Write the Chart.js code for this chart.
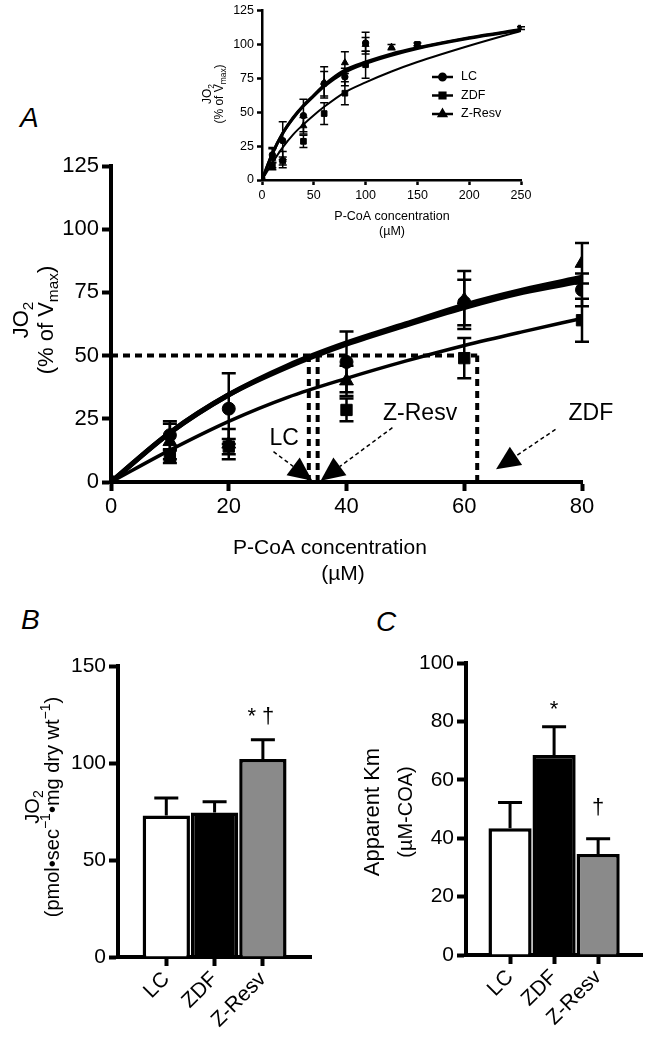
<!DOCTYPE html>
<html>
<head>
<meta charset="utf-8">
<script src="https://cdn.jsdelivr.net/npm/chart.js@4.4.1/dist/chart.umd.min.js"></script>
<style>
  body { margin: 0; background: #fff; width: 661px; height: 1042px; position: relative; overflow: hidden; }
  canvas { position: absolute; }
  .panel { position: absolute; font: italic 28px "Liberation Sans", Arial, sans-serif; }
</style>
</head>
<body>
<div class="panel" style="left:20px;top:102px">A</div>
<div class="panel" style="left:21px;top:604px">B</div>
<div class="panel" style="left:376px;top:606px">C</div>
<canvas id="chartA" width="661" height="590" style="left:0;top:0"></canvas>
<canvas id="inset" width="360" height="245" style="left:180px;top:0"></canvas>
<canvas id="chartB" width="330" height="452" style="left:0;top:590px"></canvas>
<canvas id="chartC" width="331" height="452" style="left:330px;top:590px"></canvas>
<script>
// ---- panel A: measured points (mean, sem) ----
const concX = [0, 10, 20, 40, 60, 80];
const lcMean = [0, 18.5, 29, 47.5, 71, 76];
const lcSem = [0, 5.5, 14, 12, 9, 6.5];
const zdfMean = [0, 10, 14, 28.5, 49, 64];
const zdfSem = [0, 2.5, 3, 4.5, 8, 8.5];
const resvMean = [0, 16, 15, 40, 72, 86.5];
const resvSem = [0, 7, 6, 6, 11.5, 8];

// fitted curves
const fitX = [0, 10, 20, 30, 40, 50, 60, 70, 80];
const lcFit = [0, 19.5, 34.5, 45.5, 54.5, 62, 69, 75, 79.5];
const resvFit = [0, 19.5, 34.5, 46, 55, 62.5, 70, 76, 81];
const zdfFit = [0, 12.6, 24, 33.5, 41, 47.8, 54, 59.5, 64.7];

// half-max guides
const halfLevel = 50;
const kmLines = [33.6, 35.1, 62.2];

// ---- inset: full range ----
const insetX = [0, 10, 20, 40, 60, 80, 100, 125, 150, 250];
const lcIn = [0, 18.5, 29, 47.5, 71, 76, 101, null, null, null];
const lcInSem = [0, 5.5, 14, 12, 9, 6.5, 8, null, null, null];
const zdfIn = [0, 10, 14, 28.5, 49, 64, 85, null, 100, 112];
const zdfInSem = [0, 2.5, 3, 4.5, 8, 8.5, 10, null, 1, 1];
const resvIn = [0, 16, 15, 40, 72, 86.5, 100, 98, null, null];
const resvInSem = [0, 7, 6, 6, 11.5, 8, 5, 2, null, null];

const insetFitX = [0, 10, 20, 30, 40, 50, 60, 80, 100, 125, 150, 200, 250];
const lcFitIn = [0, 19.5, 34.5, 45.5, 54.5, 62, 69, 79.5, 86, 92, 97, 104.5, 110.5];
const resvFitIn = [0, 19.5, 34.5, 46, 55, 62.5, 70, 81, 87, 93, 97.5, 105, 111];
const zdfFitIn = [0, 12.6, 24, 33.5, 41, 47.8, 54, 64.7, 72, 80, 87, 99, 110];

// ---- panels B and C ----
const groups = ['LC', 'ZDF', 'Z-Resv'];
const groupFill = ['#ffffff', '#000000', '#8a8a8a'];
const jo2Mean = [73, 74.5, 102];
const jo2Sem = [9, 5.5, 10];
const kmMean = [43.4, 68.5, 34.6];
const kmSem = [8.8, 9.7, 5.2];

const FONT = '"Liberation Sans", Arial, Helvetica, sans-serif';
const NARROW = '"Liberation Sans Narrow", "Arial Narrow", "Liberation Sans", Arial, sans-serif';
Chart.defaults.font.family = FONT;
Chart.defaults.color = '#000';
Chart.defaults.animation = false;

const pts = (xs, ys) => xs.map((x, i) => ({ x: x, y: ys[i] })).filter(p => p.y !== null && p.y !== undefined);
const sems = (ys, es) => es.filter((e, i) => ys[i] !== null);

// draw text made of normal / sub / sup parts, centred at cx,cy
function richText(ctx, parts, cx, cy, size, rot) {
  ctx.save();
  ctx.translate(cx, cy);
  if (rot) ctx.rotate(rot);
  ctx.textBaseline = 'middle';
  ctx.textAlign = 'left';
  ctx.fillStyle = '#000';
  let total = 0;
  const m = parts.map(p => {
    const s = (p.sub || p.sup) ? size * 0.7 : size;
    ctx.font = s + 'px ' + FONT;
    const w = ctx.measureText(p.t).width;
    total += w;
    return { p, s, w };
  });
  let x = -total / 2;
  m.forEach(({ p, s, w }) => {
    ctx.font = s + 'px ' + FONT;
    const dy = p.sub ? size * 0.32 : p.sup ? -size * 0.35 : 0;
    ctx.fillText(p.t, x, dy);
    x += w;
  });
  ctx.restore();
}

// error bars for datasets carrying an "sem" array
const errorBars = {
  id: 'errorBars',
  afterDatasetsDraw(chart, args, opts) {
    const ctx = chart.ctx, y = chart.scales.y;
    chart.data.datasets.forEach((ds, di) => {
      if (!ds.sem) return;
      const meta = chart.getDatasetMeta(di);
      meta.data.forEach((el, i) => {
        const e = ds.sem[i];
        if (!e) return;
        const v = typeof ds.data[i] === 'object' ? ds.data[i].y : ds.data[i];
        const top = y.getPixelForValue(v + e);
        const bot = ds.upOnly ? el.y : y.getPixelForValue(v - e);
        ctx.save();
        ctx.strokeStyle = '#000';
        ctx.lineWidth = opts.width;
        ctx.beginPath();
        ctx.moveTo(el.x, top); ctx.lineTo(el.x, bot);
        ctx.moveTo(el.x - opts.cap, top); ctx.lineTo(el.x + opts.cap, top);
        if (!ds.upOnly) { ctx.moveTo(el.x - opts.cap, bot); ctx.lineTo(el.x + opts.cap, bot); }
        ctx.stroke();
        ctx.restore();
      });
    });
  }
};

// axis titles, notes etc
const decor = {
  id: 'decor',
  afterDraw(chart, args, opts) { opts.draw && opts.draw(chart, chart.ctx); }
};

function axisOpts(size, bw, tl, step, family) {
  return {
    ticks: { font: { size: size, family: family || FONT }, padding: 3, stepSize: step },
    grid: { drawOnChartArea: false, tickLength: tl, tickWidth: bw, tickColor: '#000' },
    border: { color: '#000', width: bw }
  };
}

function markerSet(label, xs, ys, es, style, r) {
  return {
    label: label, data: pts(xs, ys), sem: sems(ys, es),
    pointStyle: style, pointRadius: r, backgroundColor: '#000', borderColor: '#000',
    borderWidth: 1, showLine: false
  };
}
function curveSet(xs, ys, w) {
  return {
    data: pts(xs, ys), showLine: true, pointRadius: 0, borderColor: '#000',
    borderWidth: w, cubicInterpolationMode: 'monotone', fill: false
  };
}
function dashSet(a, b, w) {
  return { data: [a, b], showLine: true, pointRadius: 0, borderColor: '#000', borderWidth: w, borderDash: [7, 5] };
}

// ---------------- panel A ----------------
const arrowNotes = [
  { text: 'LC', tx: 29.4, ty: 17, fx: 27.6, fy: 12, hx: 34.2, hy: 0.5 },
  { text: 'Z-Resv', tx: 52.5, ty: 27, fx: 47.8, fy: 21.5, hx: 35.6, hy: 0.5 },
  { text: 'ZDF', tx: 81.5, ty: 27, fx: 75.5, fy: 20.8, hx: 65.4, hy: 5 }
];

function arrow(ctx, x1, y1, x2, y2) {
  const ang = Math.atan2(y2 - y1, x2 - x1), L = 24, W = 11;
  const bx = x2 - Math.cos(ang) * L, by = y2 - Math.sin(ang) * L;
  ctx.save();
  ctx.strokeStyle = '#000'; ctx.lineWidth = 1.5; ctx.setLineDash([4, 3]);
  ctx.beginPath(); ctx.moveTo(x1, y1); ctx.lineTo(bx, by); ctx.stroke();
  ctx.setLineDash([]);
  ctx.fillStyle = '#000';
  ctx.beginPath();
  ctx.moveTo(x2, y2);
  ctx.lineTo(bx + Math.sin(ang) * W, by - Math.cos(ang) * W);
  ctx.lineTo(bx - Math.sin(ang) * W, by + Math.cos(ang) * W);
  ctx.closePath(); ctx.fill();
  ctx.restore();
}

const mainDatasets = [
  markerSet('LC', concX, lcMean, lcSem, 'circle', 6.5),
  markerSet('ZDF', concX, zdfMean, zdfSem, 'rect', 8),
  markerSet('Z-Resv', concX, resvMean, resvSem, 'triangle', 8),
  curveSet(fitX, lcFit, 5),
  curveSet(fitX, resvFit, 5),
  curveSet(fitX, zdfFit, 3.5),
  dashSet({ x: 0, y: halfLevel }, { x: kmLines[2], y: halfLevel }, 4)
].concat(kmLines.map(k => dashSet({ x: k, y: 0 }, { x: k, y: halfLevel }, 4)));

new Chart(document.getElementById('chartA'), {
  type: 'scatter',
  data: { datasets: mainDatasets },
  options: {
    responsive: false,
    layout: { padding: { left: 0, top: 166, right: 661 - 582, bottom: 0 } },
    plugins: {
      legend: { display: false }, tooltip: { enabled: false },
      errorBars: { width: 2.5, cap: 7 },
      decor: {
        draw(chart, ctx) {
          const xs = chart.scales.x, ys = chart.scales.y;
          ctx.save();
          ctx.fillStyle = '#000';
          ctx.textAlign = 'center'; ctx.textBaseline = 'middle';
          ctx.font = '21px ' + FONT;
          ctx.fillText('P-CoA concentration', 330, 548);
          ctx.fillText('(\u00b5M)', 343, 574);
          arrowNotes.forEach(n => {
            ctx.font = '23px ' + NARROW;
            ctx.fillText(n.text, xs.getPixelForValue(n.tx), ys.getPixelForValue(n.ty));
            arrow(ctx, xs.getPixelForValue(n.fx), ys.getPixelForValue(n.fy), xs.getPixelForValue(n.hx), ys.getPixelForValue(n.hy));
          });
          ctx.restore();
          const r = -Math.PI / 2, cy = 320;
          richText(ctx, [{ t: 'JO' }, { t: '2', sub: true }], 22, cy, 22, r);
          richText(ctx, [{ t: '(% of V' }, { t: 'max', sub: true }, { t: ')' }], 47, cy, 22, r);
        }
      }
    },
    scales: {
      x: Object.assign(axisOpts(22, 4, 9, 20, NARROW), { type: 'linear', min: 0, max: 80, afterFit: s => { s.height = 590 - 482; } }),
      y: Object.assign(axisOpts(22, 4, 9, 25, NARROW), { min: 0, max: 125, afterFit: s => { s.width = 111; } })
    }
  },
  plugins: [errorBars, decor]
});

// ---------------- inset ----------------
const insetDatasets = [
  markerSet('LC', insetX, lcIn, lcInSem, 'circle', 3.2),
  markerSet('ZDF', insetX, zdfIn, zdfInSem, 'rect', 4),
  markerSet('Z-Resv', insetX, resvIn, resvInSem, 'triangle', 4),
  curveSet(insetFitX, lcFitIn, 3),
  curveSet(insetFitX, resvFitIn, 3),
  curveSet(insetFitX, zdfFitIn, 2)
];
new Chart(document.getElementById('inset'), {
  type: 'scatter',
  data: { datasets: insetDatasets },
  options: {
    responsive: false,
    layout: { padding: { left: 0, top: 8, right: 360 - 341, bottom: 0 } },
    plugins: {
      legend: { display: false }, tooltip: { enabled: false },
      errorBars: { width: 1.5, cap: 4 },
      decor: {
        draw(chart, ctx) {
          ctx.save();
          ctx.fillStyle = '#000';
          ctx.textAlign = 'center'; ctx.textBaseline = 'middle';
          ctx.font = '12.5px ' + FONT;
          ctx.fillText('P-CoA concentration', 212, 217);
          ctx.fillText('(\u00b5M)', 212, 232);
          // legend
          const rows = [['LC', 'circle', 3.2], ['ZDF', 'rect', 4], ['Z-Resv', 'triangle', 4]];
          rows.forEach((r, i) => {
            const y = 77 + i * 18.5;
            ctx.strokeStyle = '#000'; ctx.lineWidth = 2.5;
            ctx.beginPath(); ctx.moveTo(252, y); ctx.lineTo(273, y); ctx.stroke();
            Chart.helpers.drawPoint(ctx, { pointStyle: r[1], radius: r[2], borderWidth: 1 }, 262.5, y);
            ctx.fill();
            ctx.textAlign = 'left';
            ctx.fillText(r[0], 281, y);
          });
          ctx.restore();
          const rr = -Math.PI / 2;
          richText(ctx, [{ t: 'JO' }, { t: '2', sub: true }], 28, 94, 12, rr);
          richText(ctx, [{ t: '(% of V' }, { t: 'max', sub: true }, { t: ')' }], 40, 94, 12, rr);
        }
      }
    },
    scales: {
      x: Object.assign(axisOpts(12.5, 2.5, 5, 50), { type: 'linear', min: 0, max: 250, afterFit: s => { s.height = 245 - 180; } }),
      y: Object.assign(axisOpts(12.5, 2.5, 5, 25), { min: 0, max: 125, afterFit: s => { s.width = 82; } })
    }
  },
  plugins: [errorBars, decor]
});

// ---------------- bar panels ----------------
const padded = [''].concat(groups, ['']);
function barChart(id, w, h, area, means, errs, yMax, yStep, marks, title) {
  const bx = axisOpts(21, 4, 9), by = axisOpts(21, 4, 9, yStep);
  bx.offset = false;
  bx.grid.offset = false;
  bx.grid.tickColor = c => (padded[c.index] ? '#000' : 'rgba(0,0,0,0)');
  bx.ticks = { font: { size: 21 }, minRotation: 45, maxRotation: 45, autoSkip: false, padding: 1 };
  return new Chart(document.getElementById(id), {
    type: 'bar',
    data: {
      labels: padded,
      datasets: [{
        data: [null].concat(means, [null]),
        sem: [null].concat(errs, [null]),
        upOnly: true,
        backgroundColor: ['#fff'].concat(groupFill, ['#fff']),
        borderColor: '#000', borderWidth: 3.5, borderSkipped: 'bottom',
        barPercentage: 0.98, categoryPercentage: 1
      }]
    },
    options: {
      responsive: false,
      layout: { padding: { left: 0, top: area.top, right: w - area.right, bottom: 0 } },
      plugins: {
        legend: { display: false }, tooltip: { enabled: false },
        errorBars: { width: 3, cap: 12 },
        decor: {
          draw(chart, ctx) {
            const xs = chart.scales.x, ys = chart.scales.y;
            ctx.save();
            ctx.fillStyle = '#000'; ctx.textAlign = 'center'; ctx.textBaseline = 'middle';
            marks.forEach(m => {
              ctx.font = '22px ' + FONT;
              ctx.fillText(m.text, xs.getPixelForValue(padded.indexOf(m.group)) + (m.dx || 0), ys.getPixelForValue(m.y));
            });
            ctx.restore();
            title(ctx);
          }
        }
      },
      scales: {
        x: Object.assign(bx, { afterFit: s => { s.height = h - area.bottom; } }),
        y: Object.assign(by, { min: 0, max: yMax, afterFit: s => { s.width = area.left; } })
      }
    },
    plugins: [errorBars, decor]
  });
}

barChart('chartB', 330, 452, { left: 118, right: 313, top: 76, bottom: 367 },
  jo2Mean, jo2Sem, 150, 50,
  [{ group: 'Z-Resv', y: 124, text: '* \u2020', dx: -2 }],
  ctx => {
    const r = -Math.PI / 2;
    richText(ctx, [{ t: 'JO' }, { t: '2', sub: true }], 33, 217, 20, r);
    richText(ctx, [{ t: '(pmol\u2022sec' }, { t: '\u22121', sup: true }, { t: '\u2022mg dry wt' }, { t: '\u22121', sup: true }, { t: ')' }], 53, 217, 20, r);
  });

barChart('chartC', 331, 452, { left: 136, right: 325, top: 73, bottom: 365 },
  kmMean, kmSem, 100, 20,
  [{ group: 'ZDF', y: 84, text: '*' }, { group: 'Z-Resv', y: 50.5, text: '\u2020' }],
  ctx => {
    const r = -Math.PI / 2;
    richText(ctx, [{ t: 'Apparent Km' }], 43, 222, 22, r);
    richText(ctx, [{ t: '(\u00b5M-COA)' }], 76, 222, 20, r);
  });
</script>
</body>
</html>
